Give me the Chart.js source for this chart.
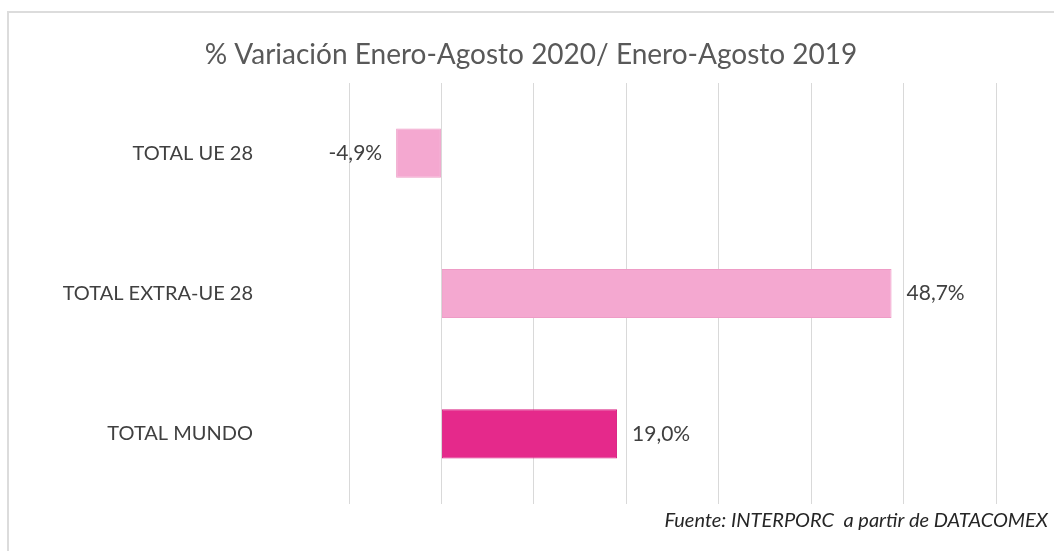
<!DOCTYPE html>
<html><head><meta charset="utf-8">
<script src="https://cdn.jsdelivr.net/npm/chart.js@4/dist/chart.umd.min.js"></script>
<style>
html,body{margin:0;padding:0;background:#fff;overflow:hidden;width:1054px;height:551px}
#frame{position:absolute;left:7px;top:11px;width:1100px;height:600px;border:2px solid #dcdcdc;box-sizing:border-box}
#wrap{position:absolute;left:0;top:0;width:1054px;height:551px}
</style></head><body>
<div id="frame"></div>
<div id="wrap"><canvas id="c" width="1054" height="551"></canvas></div>
<script>
const categories = ["TOTAL UE 28", "TOTAL EXTRA-UE 28", "TOTAL MUNDO"];
const values = [-4.9, 48.7, 19.0];
const valueLabels = ["-4,9%", "48,7%", "19,0%"];
const barColors = ["#F4A8D0", "#F4A8D0", "#E5298B"];
const barBorders = ["#EE9CC6", "#EE9CC6", "#DA2283"];
const axisMin = -10, axisMax = 60, axisStep = 10;
const titleText = "% Variación Enero-Agosto 2020/ Enero-Agosto 2019";
const sourceText = "Fuente: INTERPORC  a partir de DATACOMEX";

const FONT = "Lato, 'Open Sans', sans-serif";

const extras = {
  id: 'extras',
  afterDatasetsDraw(chart) {
    const ctx = chart.ctx;
    const meta = chart.getDatasetMeta(0);
    ctx.save();
    ctx.font = "21px " + FONT;
    ctx.fillStyle = "#404040";
    ctx.textBaseline = "middle";
    meta.data.forEach((bar, i) => {
      const v = values[i];
      if (v < 0) { ctx.textAlign = "right"; ctx.fillText(valueLabels[i], bar.x - 14, bar.y); }
      else { ctx.textAlign = "left"; ctx.fillText(valueLabels[i], bar.x + 15, bar.y); }
    });
    // title
    ctx.font = "400 28px " + FONT;
    ctx.fillStyle = "#595959";
    ctx.textAlign = "center";
    ctx.fillText(titleText, 531, 55);
    // source
    ctx.font = "italic 20px " + FONT;
    ctx.fillStyle = "#262626";
    ctx.textAlign = "right";
    ctx.fillText(sourceText, 1048, 521);
    ctx.restore();
  }
};

new Chart(document.getElementById('c'), {
  type: 'bar',
  data: {
    labels: categories,
    datasets: [{
      data: values,
      backgroundColor: barColors,
      borderColor: barBorders,
      borderWidth: 1,
      borderSkipped: false,
      categoryPercentage: 1,
      barPercentage: 0.35
    }]
  },
  options: {
    indexAxis: 'y',
    responsive: false,
    maintainAspectRatio: false,
    animation: false,
    devicePixelRatio: 1,
    layout: { padding: { top: 83, bottom: 47, left: 0, right: 58 } },
    plugins: { legend: { display: false }, tooltip: { enabled: false }, title: { display: false } },
    scales: {
      x: {
        min: axisMin, max: axisMax,
        ticks: { stepSize: axisStep, display: false },
        grid: { color: "#d9d9d9", lineWidth: 1, drawTicks: false },
        border: { display: false },
        afterFit(s) { s.height = 0; s.paddingLeft = 0; s.paddingRight = 0; }
      },
      y: {
        ticks: { font: { family: FONT, size: 20 }, color: "#404040", padding: 96 },
        grid: { display: false, drawTicks: false },
        border: { display: false },
        afterFit(s) { s.width = 349; s.paddingTop = 0; s.paddingBottom = 0; }
      }
    }
  },
  plugins: [extras]
});
</script>
</body></html>
